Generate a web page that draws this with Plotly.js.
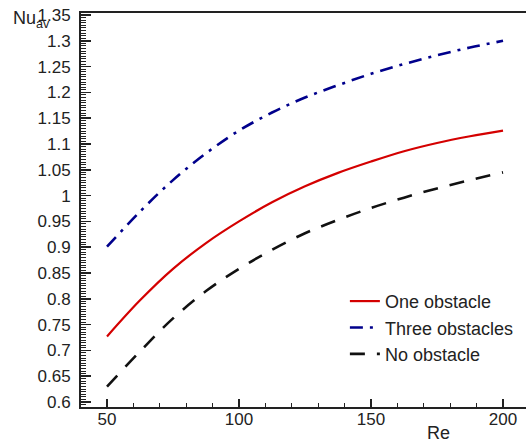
<!DOCTYPE html>
<html>
<head>
<meta charset="utf-8">
<script src="https://cdn.plot.ly/plotly-3.0.1.min.js"></script>
<style>html,body{margin:0;padding:0;background:#fff;}#chart{width:526px;height:439px;}</style>
</head>
<body>
<div id="chart"></div>
<script>
const re = [50, 62.5, 75, 87.5, 100, 112.5, 125, 137.5, 150, 162.5, 175, 187.5, 200];
const oneObstacle = [0.727, 0.797, 0.858, 0.908, 0.950, 0.987, 1.018, 1.044, 1.066, 1.086, 1.102, 1.115, 1.126];
const threeObstacles = [0.901, 0.969, 1.030, 1.082, 1.126, 1.161, 1.190, 1.214, 1.236, 1.255, 1.272, 1.287, 1.300];
const noObstacle = [0.630, 0.698, 0.762, 0.815, 0.858, 0.895, 0.927, 0.953, 0.976, 0.996, 1.014, 1.030, 1.045];
const seriesNames = ["One obstacle", "Three obstacles", "No obstacle"];
const xTicks = [50, 100, 150, 200];
const yTicks = [0.6, 0.65, 0.7, 0.75, 0.8, 0.85, 0.9, 0.95, 1, 1.05, 1.1, 1.15, 1.2, 1.25, 1.3, 1.35];

const fam = "Liberation Sans, Arial, sans-serif";
const tickFont = {family: fam, size: 17, color: "#222"};

const traces = [
  {x: re, y: oneObstacle, name: seriesNames[0], mode: "lines",
   line: {color: "#d40000", width: 2.2, shape: "spline", smoothing: 1}},
  {x: re, y: threeObstacles, name: seriesNames[1], mode: "lines",
   line: {color: "#00008c", width: 2.6, dash: "13px,7px,3px,7px", shape: "spline", smoothing: 1}},
  {x: re, y: noObstacle, name: seriesNames[2], mode: "lines",
   line: {color: "#111", width: 2.6, dash: "15px,12px", shape: "spline", smoothing: 1}}
];

const layout = {
  width: 526, height: 439,
  margin: {l: 81, r: 0, t: 13, b: 32},
  paper_bgcolor: "#fff", plot_bgcolor: "#fff",
  font: tickFont,
  showlegend: true,
  legend: {x: 0.593, y: 0.315, xanchor: "left", yanchor: "top",
           font: {family: fam, size: 18, color: "#222"},
           bgcolor: "rgba(255,255,255,0)", tracegroupgap: 0, itemwidth: 30},
  xaxis: {
    range: [40.15, 208.7], tickvals: xTicks, ticktext: xTicks.map(String),
    ticks: "inside", ticklen: 8, tickwidth: 1.5, tickcolor: "#222",
    minor: {dtick: 10, tick0: 0, ticks: "inside", ticklen: 4, tickwidth: 1, tickcolor: "#222", showgrid: false},
    showline: true, linecolor: "#222", linewidth: 2, mirror: true,
    showgrid: false, zeroline: false, tickfont: tickFont, ticklabelstandoff: -4, fixedrange: true
  },
  yaxis: {
    range: [0.5903, 1.3539], tickvals: yTicks, ticktext: yTicks.map(v => String(v)),
    ticks: "inside", ticklen: 10, tickwidth: 1.5, tickcolor: "#222",
    minor: {dtick: 0.005, tick0: 0, ticks: "inside", ticklen: 5, tickwidth: 1, tickcolor: "#222", showgrid: false},
    showline: true, linecolor: "#222", linewidth: 2, mirror: false,
    showgrid: false, zeroline: false, tickfont: tickFont, ticklabelstandoff: 5, fixedrange: true
  },
  annotations: [
    {xref: "paper", yref: "paper", x: -0.157, y: 1.018, xanchor: "left", yanchor: "top",
     text: "Nu<sub>av</sub>", showarrow: false, font: {family: fam, size: 18, color: "#222"}},
    {xref: "paper", yref: "paper", x: 0.773, y: -0.0355, xanchor: "left", yanchor: "top",
     text: "Re", showarrow: false, font: {family: fam, size: 18, color: "#222"}}
  ]
};

Plotly.newPlot("chart", traces, layout, {displayModeBar: false, staticPlot: true});
</script>
</body>
</html>
